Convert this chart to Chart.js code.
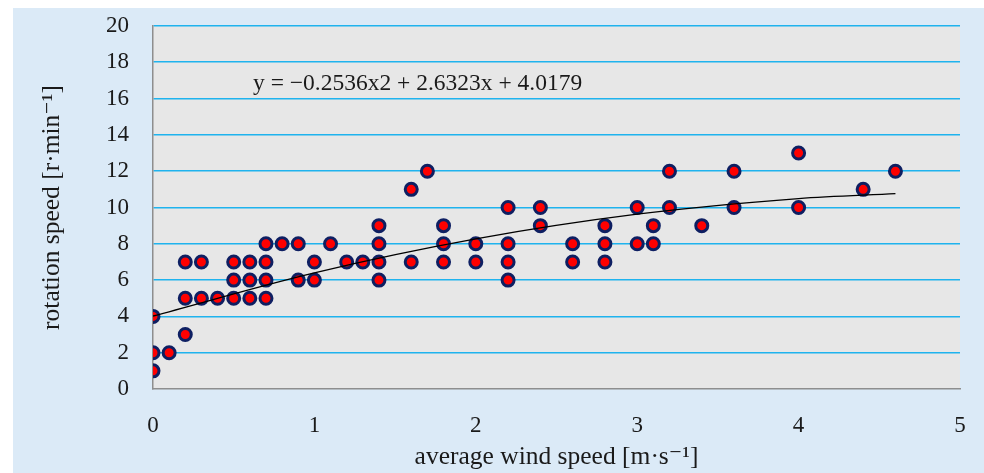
<!DOCTYPE html>
<html>
<head>
<meta charset="utf-8">
<script src="https://cdn.jsdelivr.net/npm/chart.js@4.4.1/dist/chart.umd.min.js"></script>
<style>
  html, body { margin: 0; padding: 0; background: #ffffff; }
  #wrap { position: absolute; left: 13px; top: 8px; width: 971px; height: 465px; background: #dbeaf7; }
</style>
</head>
<body>
<div id="wrap"><canvas id="chart"></canvas></div>
<script>
// measured points: average wind speed [m/s] vs rotation speed [r/min]
const windSpeed = [
  0, 0, 0, 0.1, 0.2, 0.2, 0.2, 0.3, 0.3, 0.4,
  0.5, 0.5, 0.5, 0.6, 0.6, 0.6, 0.7, 0.7, 0.7, 0.7,
  0.8, 0.9, 0.9, 1.0, 1.0, 1.1, 1.2, 1.3, 1.4, 1.4,
  1.4, 1.4, 1.6, 1.6, 1.7, 1.8, 1.8, 1.8, 2.0, 2.0,
  2.2, 2.2, 2.2, 2.2, 2.4, 2.4, 2.6, 2.6, 2.8, 2.8,
  2.8, 3.0, 3.0, 3.1, 3.1, 3.2, 3.2, 3.4, 3.6, 3.6,
  4.0, 4.0, 4.4, 4.6
];
const rotationSpeed = [
  1, 2, 4, 2, 3, 5, 7, 5, 7, 5,
  5, 6, 7, 5, 6, 7, 5, 6, 7, 8,
  8, 6, 8, 6, 7, 8, 7, 7, 6, 7,
  8, 9, 7, 11, 12, 7, 8, 9, 7, 8,
  6, 7, 8, 10, 9, 10, 7, 8, 7, 8,
  9, 8, 10, 8, 9, 10, 12, 9, 10, 12,
  10, 13, 11, 12
];

// trendline
const trendX = [0, 1, 2, 3, 4, 4.6];
const trendY = [4.02, 6.40, 8.27, 9.63, 10.49, 10.76];
const trendLabel = "y = \u22120.2536x2 + 2.6323x + 4.0179";

const xTicks = [0, 1, 2, 3, 4, 5];
const yTicks = [0, 2, 4, 6, 8, 10, 12, 14, 16, 18, 20];

const serif = "'Liberation Serif', 'DejaVu Serif', serif";

const plotBackground = {
  id: "plotBackground",
  beforeDraw(chart) {
    const { ctx, chartArea: a } = chart;
    ctx.save();
    ctx.fillStyle = "#e7e7e7";
    ctx.fillRect(a.left, a.top, a.right - a.left, a.bottom - a.top);
    ctx.restore();
  }
};

const equationText = {
  id: "equationText",
  afterDatasetsDraw(chart) {
    const { ctx, scales } = chart;
    ctx.save();
    ctx.font = "23.5px " + serif;
    ctx.fillStyle = "#1a1a1a";
    ctx.textAlign = "left";
    ctx.textBaseline = "alphabetic";
    ctx.fillText(trendLabel, scales.x.getPixelForValue(0.62), scales.y.getPixelForValue(16.5));
    ctx.restore();
  }
};

new Chart(document.getElementById("chart"), {
  type: "scatter",
  data: {
    datasets: [
      {
        type: "line",
        data: trendX.map((x, i) => ({ x: x, y: trendY[i] })),
        borderColor: "#000000",
        borderWidth: 1.3,
        pointRadius: 0,
        fill: false,
        cubicInterpolationMode: "monotone",
        order: 0
      },
      {
        data: windSpeed.map((x, i) => ({ x: x, y: rotationSpeed[i] })),
        backgroundColor: "#ff0000",
        borderColor: "#0e1f62",
        borderWidth: 3,
        pointRadius: 6,
        order: 1
      }
    ]
  },
  options: {
    responsive: true,
    maintainAspectRatio: false,
    animation: false,
    layout: { padding: { top: 18, right: 24, bottom: 0, left: 0 } },
    plugins: {
      legend: { display: false },
      tooltip: { enabled: false }
    },
    scales: {
      x: {
        type: "linear",
        min: 0,
        max: 5,
        afterBuildTicks: (s) => { s.ticks = xTicks.map((v) => ({ value: v })); },
        afterFit: (s) => { s.height = 84; s.paddingRight = 0; s.paddingLeft = 0; },
        grid: { display: false, drawTicks: false },
        border: { display: true, color: "#8e8e8e", width: 1.5 },
        ticks: { padding: 23, color: "#1a1a1a", font: { family: serif, size: 23 } },
        title: {
          display: true,
          text: "average wind speed [m\u00b7s\u207b\u00b9]",
          color: "#1a1a1a",
          font: { family: serif, size: 25.5 },
          padding: { top: 0, bottom: 0 }
        }
      },
      y: {
        min: 0,
        max: 20,
        afterBuildTicks: (s) => { s.ticks = yTicks.map((v) => ({ value: v })); },
        afterFit: (s) => { s.width = 140; s.paddingTop = 0; s.paddingBottom = 0; },
        grid: {
          drawTicks: false,
          color: (c) => (c.tick && c.tick.value === 0 ? "rgba(0,0,0,0)" : "#1fb3ee"),
          lineWidth: 1.6
        },
        border: { display: true, color: "#8e8e8e", width: 1.5 },
        ticks: { padding: 24, color: "#1a1a1a", font: { family: serif, size: 23 } },
        title: {
          display: true,
          text: "rotation speed [r\u00b7min\u207b\u00b9]",
          color: "#1a1a1a",
          font: { family: serif, size: 25.5 },
          padding: { top: 24, bottom: 0 }
        }
      }
    }
  },
  plugins: [plotBackground, equationText]
});
</script>
</body>
</html>
